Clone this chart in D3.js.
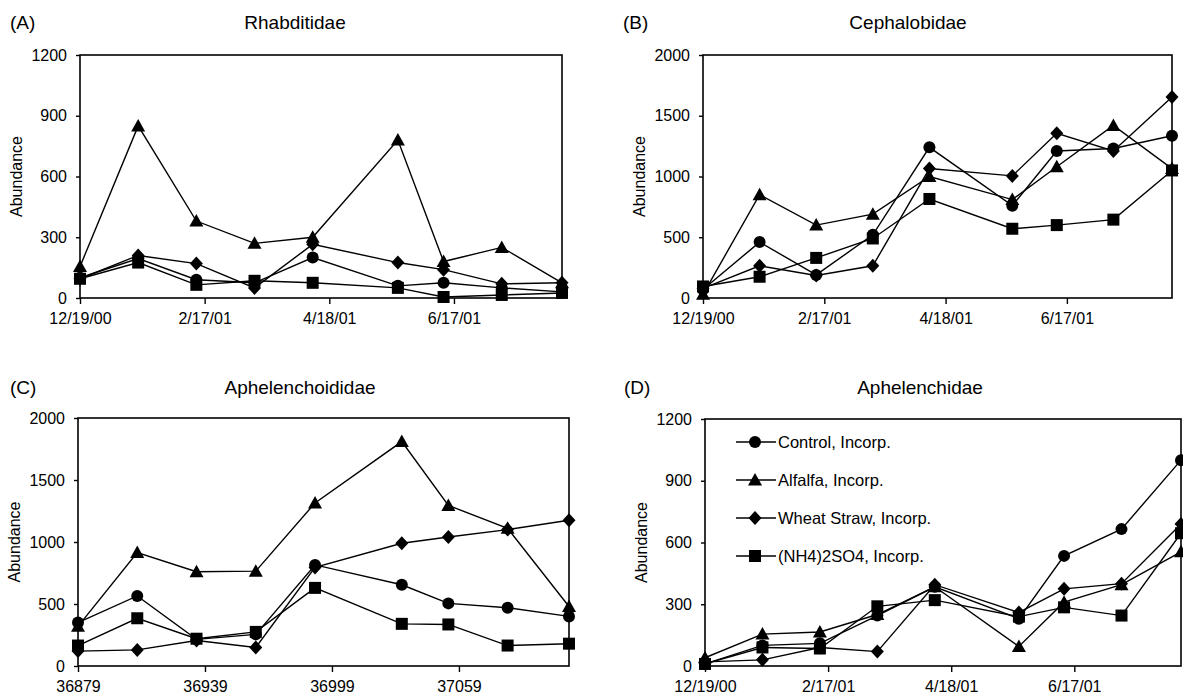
<!DOCTYPE html>
<html>
<head>
<meta charset="utf-8">
<script src="https://cdn.jsdelivr.net/npm/d3@7"></script>
<style>
  html, body { margin: 0; padding: 0; background: #fff; }
  svg text { font-family: "Liberation Sans", Arial, sans-serif; fill: #000; }
</style>
</head>
<body>
<svg id="chart" width="1183" height="696"></svg>
<script>
// sampling dates as Excel serial numbers (12/19/00 = 36879)
const dates = [36879, 36907, 36935, 36963, 36991, 37032, 37054, 37082, 37111];
const xTickValues = [36879, 36939, 36999, 37059];
const dateTickLabels = ["12/19/00", "2/17/01", "4/18/01", "6/17/01"];
const serialTickLabels = ["36879", "36939", "36999", "37059"];

const seriesNames = ["Control, Incorp.", "Alfalfa, Incorp.", "Wheat Straw, Incorp.", "(NH4)2SO4, Incorp."];
const seriesSymbols = ["circle", "triangle", "diamond", "square"];

// (A) Rhabditidae
const rhabControl = [100, 195, 90, 75, 200, 60, 75, 50, 30];
const rhabAlfalfa = [155, 850, 380, 270, 300, 780, 180, 250, 75];
const rhabWheat   = [95, 210, 170, 50, 265, 175, 140, 70, 75];
const rhabNH4     = [95, 175, 65, 85, 75, 50, 5, 15, 25];

// (B) Cephalobidae
const cephControl = [70, 460, 190, 520, 1240, 760, 1210, 1230, 1335];
const cephAlfalfa = [30, 850, 600, 690, 1000, 810, 1080, 1420, 1065];
const cephWheat   = [80, 265, 185, 265, 1065, 1005, 1355, 1210, 1655];
const cephNH4     = [95, 175, 330, 490, 815, 570, 600, 645, 1050];

// (C) Aphelenchoididae
const aphdControl = [350, 565, 215, 255, 815, 655, 505, 470, 400];
const aphdAlfalfa = [320, 915, 760, 765, 1315, 1810, 1295, 1110, 480];
const aphdWheat   = [120, 130, 205, 150, 795, 990, 1040, 1100, 1175];
const aphdNH4     = [165, 385, 220, 275, 630, 340, 335, 165, 180];

// (D) Aphelenchidae
const aphControl = [10, 100, 110, 245, 385, 230, 535, 665, 1000];
const aphAlfalfa = [40, 155, 165, 250, 385, 95, 310, 395, 555];
const aphWheat   = [20, 30, 90, 70, 395, 260, 375, 400, 690];
const aphNH4     = [10, 90, 85, 290, 320, 240, 285, 245, 645];

const panels = [
  { tag: "(A)", tagX: 10, title: "Rhabditidae", titleX: 295, titleY: 29, box: [80, 562, 55, 298],
    yMax: 1200, yTicks: [0, 300, 600, 900, 1200], xLabels: dateTickLabels,
    series: [rhabControl, rhabAlfalfa, rhabWheat, rhabNH4], legend: false },
  { tag: "(B)", tagX: 623, title: "Cephalobidae", titleX: 908, titleY: 29, box: [703, 1172, 55, 298],
    yMax: 2000, yTicks: [0, 500, 1000, 1500, 2000], xLabels: dateTickLabels,
    series: [cephControl, cephAlfalfa, cephWheat, cephNH4], legend: false },
  { tag: "(C)", tagX: 10, title: "Aphelenchoididae", titleX: 300, titleY: 394, box: [78, 569, 418, 666],
    yMax: 2000, yTicks: [0, 500, 1000, 1500, 2000], xLabels: serialTickLabels,
    series: [aphdControl, aphdAlfalfa, aphdWheat, aphdNH4], legend: false },
  { tag: "(D)", tagX: 624, title: "Aphelenchidae", titleX: 920, titleY: 394, box: [705, 1181, 419, 666],
    yMax: 1200, yTicks: [0, 300, 600, 900, 1200], xLabels: dateTickLabels,
    series: [aphControl, aphAlfalfa, aphWheat, aphNH4], legend: true }
];

const svg = d3.select("#chart");
const FONT = "Liberation Sans, Arial, sans-serif";

function marker(g, kind, x, y) {
  if (kind === "circle") {
    g.append("circle").attr("cx", x).attr("cy", y).attr("r", 6).attr("fill", "#000");
  } else if (kind === "square") {
    g.append("rect").attr("x", x - 6).attr("y", y - 6).attr("width", 12).attr("height", 12).attr("fill", "#000");
  } else if (kind === "triangle") {
    g.append("path").attr("d", `M${x},${y - 7}L${x + 7},${y + 5.5}L${x - 7},${y + 5.5}Z`).attr("fill", "#000");
  } else {
    g.append("path").attr("d", `M${x},${y - 7}L${x + 6.5},${y}L${x},${y + 7}L${x - 6.5},${y}Z`).attr("fill", "#000");
  }
}

panels.forEach(p => {
  const [left, right, top, bottom] = p.box;
  const x = d3.scaleLinear().domain([dates[0], dates[dates.length - 1]]).range([left, right]);
  const y = d3.scaleLinear().domain([0, p.yMax]).range([bottom, top]);
  const g = svg.append("g");

  // panel letter and title
  g.append("text").attr("x", p.tagX).attr("y", p.titleY).attr("font-size", 19).text(p.tag);
  g.append("text").attr("x", p.titleX).attr("y", p.titleY)
    .attr("text-anchor", "middle").attr("font-size", 19).text(p.title);

  // axes
  const xAxis = d3.axisBottom(x).tickValues(xTickValues)
    .tickFormat((d, i) => p.xLabels[i]).tickSizeInner(6).tickSizeOuter(0).tickPadding(9);
  const gx = g.append("g").attr("transform", `translate(0,${bottom})`).call(xAxis);
  gx.select(".domain").remove();
  gx.selectAll("line").attr("stroke", "#000").attr("stroke-width", 1.4);
  gx.selectAll("text").attr("font-size", 16).attr("font-family", FONT);

  const yAxis = d3.axisLeft(y).tickValues(p.yTicks).tickFormat(d3.format("d"))
    .tickSizeInner(4).tickSizeOuter(0).tickPadding(9);
  const gy = g.append("g").attr("transform", `translate(${left},0)`).call(yAxis);
  gy.select(".domain").remove();
  gy.selectAll("line").attr("stroke", "#000").attr("stroke-width", 1.4);
  gy.selectAll("text").attr("font-size", 16).attr("font-family", FONT);

  g.append("text")
    .attr("transform", `translate(${left - 58},${(top + bottom) / 2}) rotate(-90)`)
    .attr("text-anchor", "middle").attr("font-size", 16).text("Abundance");

  // frame
  g.append("rect").attr("x", left).attr("y", top).attr("width", right - left).attr("height", bottom - top)
    .attr("fill", "none").attr("stroke", "#000").attr("stroke-width", 1.6);

  // series
  const line = d3.line().x((d, i) => x(dates[i])).y(d => y(d));
  p.series.forEach((vals, s) => {
    g.append("path").datum(vals).attr("d", line)
      .attr("fill", "none").attr("stroke", "#000").attr("stroke-width", 1.4);
    vals.forEach((v, i) => marker(g, seriesSymbols[s], x(dates[i]), y(v)));
  });

  if (p.legend) {
    const lg = g.append("g");
    seriesNames.forEach((name, s) => {
      const ly = 442 + s * 38;
      lg.append("line").attr("x1", 736).attr("x2", 776).attr("y1", ly).attr("y2", ly)
        .attr("stroke", "#000").attr("stroke-width", 1.4);
      marker(lg, seriesSymbols[s], 755, ly);
      lg.append("text").attr("x", 778).attr("y", ly).attr("dy", "0.35em")
        .attr("font-size", 16.5).text(name);
    });
  }
});
</script>
</body>
</html>
